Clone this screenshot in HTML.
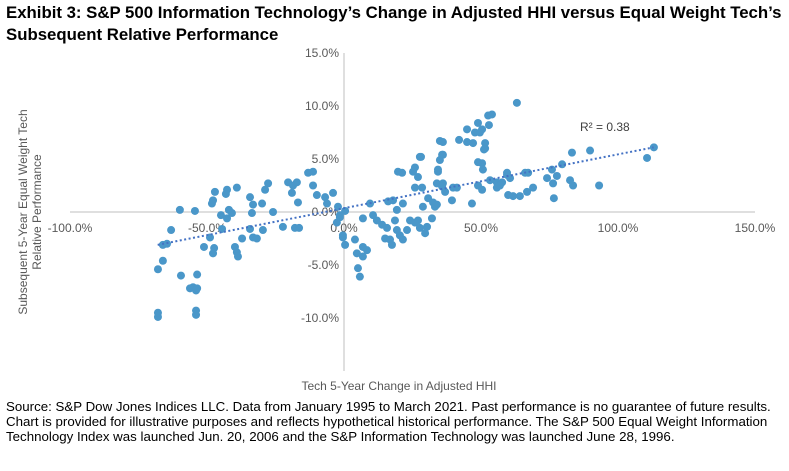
<!DOCTYPE html>
<html><head><meta charset="utf-8"><style>
body{margin:0;background:#fff;font-family:"Liberation Sans",Arial,sans-serif;}
#wrap{position:relative;width:789px;height:471px;overflow:hidden;}
.title{position:absolute;left:6px;top:2px;font-weight:bold;font-size:16.8px;line-height:22px;color:#000;white-space:nowrap;}
.src{position:absolute;left:6px;top:399px;font-size:13.3px;line-height:15px;color:#000;white-space:nowrap;}
</style></head><body>
<div id="wrap">
<div class="title">Exhibit 3: S&amp;P 500 Information Technology’s Change in Adjusted HHI versus Equal Weight Tech’s<br>Subsequent Relative Performance</div>
<svg id="chart" width="789" height="471" style="position:absolute;left:0;top:0"></svg>
<div class="src">Source: S&amp;P Dow Jones Indices LLC. Data from January 1995 to March 2021. Past performance is no guarantee of future results.<br>Chart is provided for illustrative purposes and reflects hypothetical historical performance. The S&amp;P 500 Equal Weight Information<br>Technology Index was launched Jun. 20, 2006 and the S&amp;P Information Technology was launched June 28, 1996.</div>
</div>
<script>
const xTicks=[-100,-50,0,50,100,150];
const yTicks=[15,10,5,0,-5,-10];
const xTickLabels=["-100.0%","-50.0%","0.0%","50.0%","100.0%","150.0%"];
const yTickLabels=["15.0%","10.0%","5.0%","0.0%","-5.0%","-10.0%"];
const hhiChange=[-67.9,-67.9,-54,-54,-55.1,-56.2,-53.6,-54,-59.5,-53.6,-67.9,-66.1,-66.1,-64.6,-63.1,-59.9,-54.4,-47.1,-47.8,-48.2,-42.7,-43.1,-39.1,-44.9,-42,-40.9,-42.7,-44.5,-48.9,-51.1,-47.4,-47.8,-39.8,-39.1,-38.7,-34.3,-33.2,-29.9,-33.6,-34.3,-33.2,-31.8,-37.2,-25.9,-29.6,-27.7,-28.8,-22.3,-20.4,-18.6,-17.2,-19,-16.8,-17.9,-16.4,-11.3,-13.1,-11.3,-9.9,-6.9,-4,-6.2,-2.2,-1.5,-0.4,0.4,
0.4,-1.5,-2.6,-0.4,4,4.7,5.1,5.8,6.9,8.4,6.9,9.5,10.6,6.9,12,13.9,15.7,15,16.8,17.5,18.6,19.3,20.4,21.5,23,24.1,25.9,27,27.7,29.6,30.3,32.1,19.3,16.1,17.9,21.5,19.7,21.2,25.9,27,27.7,28.5,25.9,30.7,32.5,33.9,33.2,28.8,34.3,35,36.1,33.9,36.1,36.9,39.8,39.4,41.2,46.7,48.9,50.4,50.4,50.7,51.5,53.3,55.8,55.8,57.7,59.5,59.9,
63.1,52.6,54,52.9,48.9,50.4,47.8,49.6,44.9,42,44.9,47.1,51.5,51.1,35,36.1,35.8,28.1,25.2,34.3,48.9,35.8,56.9,59.5,60.6,61.7,64.2,66.8,69,66.1,67.2,74.1,75.9,76.3,77.7,79.6,82.5,83.6,76.6,83.2,89.8,93.1,110.6,113.1];
const relPerf=[-9.9,-9.5,-9.3,-9.7,-7.1,-7.2,-7.2,-7.4,-6,-5.9,-5.4,-4.6,-3.1,-3,-1.7,0.2,0.1,1.9,1.1,0.8,2.1,1.7,2.3,-0.3,0.2,-0.1,-0.6,-1.6,-2.4,-3.3,-3.4,-3.9,-3.3,-3.8,-4.2,1.4,0.7,0.8,-0.1,-1.6,-2.4,-2.5,-2.5,0,-1.7,2.7,2.1,-1.4,2.8,2.5,2.8,1.8,0.9,-1.5,-1.5,2.5,3.7,3.8,1.6,1.4,1.8,0.8,0.5,-0.3,-2.4,-3.1,
0.1,-0.5,-1,-2.2,-2.6,-3.9,-5.3,-6.1,-3.3,-3.6,-4.2,0.8,-0.3,-0.6,-0.8,-1.2,-1.5,-2.5,-2.6,-3.1,-0.8,-1.7,-2.2,-2.6,-1.7,-0.8,-1,-0.8,-1.5,-2,-1.4,-0.6,0.2,1,1.1,0.8,3.8,3.7,4.2,3.3,5.2,2.3,2.3,1.3,0.9,0.7,0.5,0.5,3.8,4.9,5.4,2.7,2.7,1.9,2.3,1.1,2.3,0.8,2.5,2.1,4.6,4,6,3,2.8,2.3,2.8,3.5,1.6,
10.3,9.1,9.2,8.2,8.4,7.8,7.5,7.5,7.8,6.8,6.6,6.5,6.5,5.9,6.7,6.6,5.4,5.2,3.8,4,4.7,2.4,2.5,3.7,3.2,1.5,1.5,1.9,2.3,3.7,3.7,3.2,4,2.7,3.4,4.5,3,2.5,1.3,5.6,5.8,2.5,5.1,6.1];
const trendX=[-68,113];
const trendY=[-3.1,6.1];

const NS="http://www.w3.org/2000/svg";
const svg=document.getElementById('chart');
const x=v=>344+(v)*2.74;
const y=v=>212-(v)*10.6;
function mk(t,a){const e=document.createElementNS(NS,t);for(const k in a)e.setAttribute(k,a[k]);svg.appendChild(e);return e;}
let e;
e=mk('line',{x1:x(-100),x2:x(150),y1:y(0),y2:y(0),stroke:'#bfbfbf','stroke-width':1});


e=mk('line',{x1:x(0),x2:x(0),y1:y(15),y2:y(-15),stroke:'#bfbfbf','stroke-width':1});


xTicks.forEach((t,i)=>{
 const el=mk('text',{x:x(t),y:y(0)+20,'text-anchor':'middle','font-size':'12','fill':'#595959','font-family':'Liberation Sans, sans-serif'});
 el.textContent=xTickLabels[i];
 
 
});
yTicks.forEach((t,i)=>{
 const el=mk('text',{x:x(0)-5,y:y(t)+4,'text-anchor':'end','font-size':'12','fill':'#595959','font-family':'Liberation Sans, sans-serif'});
 el.textContent=yTickLabels[i];
 
 
});
hhiChange.forEach((v,i)=>{
 const c=mk('circle',{cx:x(v),cy:y(relPerf[i]),r:4,fill:'#4a97c9'});
 
 
});
e=mk('line',{x1:x(trendX[0]),y1:y(trendY[0]),x2:x(trendX[1]),y2:y(trendY[1]),stroke:'#4472c4','stroke-width':2,'stroke-dasharray':'2 2.5'});


e=mk('text',{x:580,y:131,'font-size':'12','fill':'#404040','font-family':'Liberation Sans, sans-serif'});
e.textContent='R² = 0.38';


e=mk('text',{x:399,y:390,'text-anchor':'middle','font-size':'12','fill':'#595959','font-family':'Liberation Sans, sans-serif'});
e.textContent='Tech 5-Year Change in Adjusted HHI';


const yt=mk('text',{transform:'translate(27,212) rotate(-90)','text-anchor':'middle','font-size':'12','fill':'#595959','font-family':'Liberation Sans, sans-serif'});


const t1=document.createElementNS(NS,'tspan');t1.setAttribute('x',0);t1.setAttribute('y',0);t1.textContent='Subsequent 5-Year Equal Weight Tech';yt.appendChild(t1);
const t2=document.createElementNS(NS,'tspan');t2.setAttribute('x',0);t2.setAttribute('y',14);t2.setAttribute('xml:space','preserve');t2.textContent='Relative  Performance';yt.appendChild(t2);
</script>
</body></html>
